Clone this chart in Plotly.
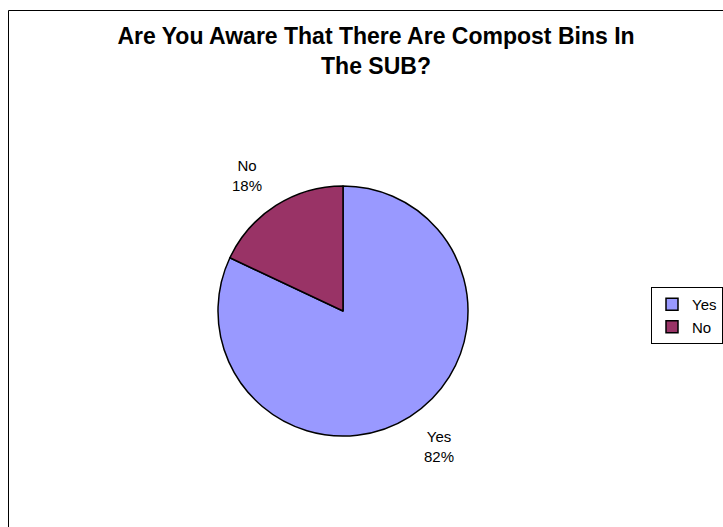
import plotly.graph_objects as go

labels = ["Yes", "No"]
values = [82, 18]
colors = ["#9999FF", "#993366"]
title_text = "Are You Aware That There Are Compost Bins In<br>The SUB?"

W, H = 723, 527
cx, cy, r = 343, 311, 125

fig = go.Figure(go.Pie(
    labels=labels,
    values=values,
    sort=False,
    direction="clockwise",
    rotation=0,
    marker=dict(colors=colors, line=dict(color="black", width=1.5)),
    texttemplate=["&nbsp;<br>%{label}<br>%{percent:.0%}",
                  "%{label}<br>%{percent:.0%}<br>&nbsp;"],
    textposition="outside",
    textfont=dict(family="Liberation Sans, Arial", size=15, color="black"),
    domain=dict(x=[(cx - r) / W, (cx + r) / W], y=[(H - cy - r) / H, (H - cy + r) / H]),
    hoverinfo="skip",
))

fig.update_layout(
    width=W, height=H,
    margin=dict(l=0, r=0, t=0, b=0),
    paper_bgcolor="white",
    title=dict(text="<b>" + title_text + "</b>", x=376 / W, xanchor="center",
               y=1 - 44 / H, yanchor="top",
               font=dict(family="Liberation Sans, Arial", size=23, color="black")),
    legend=dict(x=1, xanchor="right", y=1 - 287 / H, yanchor="top",
                bordercolor="black", borderwidth=1,
                font=dict(family="Liberation Sans, Arial", size=15, color="black"),
                itemwidth=30, tracegroupgap=0),
    shapes=[dict(type="rect", xref="paper", yref="paper",
                 x0=8.5 / W, x1=1.1, y0=-0.1, y1=1 - 10.5 / H,
                 line=dict(color="black", width=1))],
)

fig.write_html("out.html")
